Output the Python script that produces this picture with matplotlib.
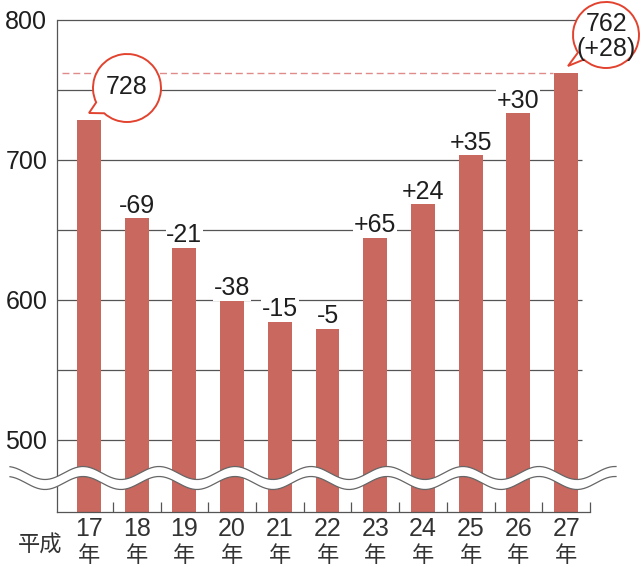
import matplotlib
matplotlib.use('Agg')
import matplotlib.pyplot as plt
import numpy as np
from matplotlib.patches import PathPatch, Polygon
from matplotlib.path import Path
from matplotlib.transforms import Affine2D, blended_transform_factory
from matplotlib.lines import Line2D

# ---- data ----
years = ['17', '18', '19', '20', '21', '22', '23', '24', '25', '26', '27']
values = [728, 659, 638, 600, 585, 580, 645, 669, 704, 734, 762]
changes = ['', '-69', '-21', '-38', '-15', '-5', '+65', '+24', '+35', '+30', '']
first_label = '728'
last_label = '762\n(+28)'
ytick_values = [500, 600, 700, 800]
grid_values = [500, 550, 600, 650, 700, 750, 800]
ref_value = 762
era = '平成'
year_suffix = '年'

FONT = ['Liberation Sans', 'Noto Sans CJK JP', 'DejaVu Sans']
plt.rcParams['font.family'] = FONT

W, H = 643, 567
fig = plt.figure(figsize=(W / 100, H / 100), dpi=100)
fig.patch.set_facecolor('white')

# pixel transform (x right, y down from top)
pixT = Affine2D().scale(1 / W, -1 / H).translate(0, 1) + fig.transFigure

left, right, top, bottom = 57, 590, 19.5, 512
ax = fig.add_axes([left / W, 1 - bottom / H, (right - left) / W, (bottom - top) / H])
ymin = 800 - (bottom - top) / 1.4
ax.set_ylim(ymin, 800)
ax.set_xlim(-0.67, 10.5)

BAR = '#c8685f'
RED = '#e2432f'
GRID = '#555555'
TXT = '#1e1e1e'
FS = 18

x = np.arange(len(values))
ax.bar(x, np.array(values) - ymin, bottom=ymin, width=0.5, color=BAR, zorder=2)

ax.hlines(grid_values, -0.67, 10.33, color=GRID, lw=0.9, zorder=1, clip_on=False)
ax.hlines(ref_value, -0.57, 9.72, color='#e08a8a', lw=1.0, linestyles=(0, (5, 2.8)), zorder=1)

for s in ['top', 'right']:
    ax.spines[s].set_visible(False)
for s in ['left', 'bottom']:
    ax.spines[s].set_color(GRID)
    ax.spines[s].set_linewidth(0.9)

ax.set_yticks(ytick_values)
ax.set_yticklabels([str(v) for v in ytick_values], fontsize=FS, color=TXT)
ax.tick_params(axis='y', length=0, pad=7)
ax.set_xticks(x + 0.5)
ax.set_xticklabels([])
ax.tick_params(axis='x', direction='in', length=7, width=0.9, color=GRID)

# change labels
for xi, v, c in zip(x, values, changes):
    if c:
        ax.annotate(c, (xi, v), xytext=(0, 3), textcoords='offset points',
                    ha='center', va='baseline', fontsize=FS, color=TXT,
                    bbox=dict(fc='white', ec='none', pad=0.5), zorder=3)

# x labels
bt = blended_transform_factory(ax.transData, pixT)
for xi, yr in zip(x, years):
    ax.text(xi, 528.5, yr, transform=bt, ha='center', va='center', fontsize=FS,
            color='#333333', clip_on=False)
    ax.text(xi, 556, year_suffix, transform=bt, ha='center', va='center', fontsize=16,
            color='#333333', clip_on=False, family=['Noto Sans CJK JP'])
fig.text(40, 545, era, transform=pixT, ha='center', va='center', fontsize=16,
         color='#333333', family=['Noto Sans CJK JP'])

# axis break wave
xs = np.linspace(10, 616, 400)
up = 473 - 6.5 * np.cos(2 * np.pi * (xs - 7) / 76)
lo = up + 10
poly = np.vstack([np.column_stack([xs, up]), np.column_stack([xs[::-1], lo[::-1]])])
fig.add_artist(Polygon(poly, closed=True, fc='white', ec='none', transform=pixT, zorder=5))
fig.add_artist(Line2D(xs, up, color='#666666', lw=0.9, transform=pixT, zorder=6))
fig.add_artist(Line2D(xs, lo, color='#666666', lw=0.9, transform=pixT, zorder=6))


def bubble(cx, cy, r, a1, a2, tip):
    arc = Path.arc(a2, a1 + 360)
    verts = arc.vertices * r
    verts[:, 1] = -verts[:, 1]
    verts = verts + np.array([cx, cy])
    codes = list(arc.codes)
    verts = np.vstack([verts, [tip], verts[:1]])
    codes = codes + [Path.LINETO, Path.CLOSEPOLY]
    p = Path(verts, codes)
    fig.add_artist(PathPatch(p, fc='white', ec=RED, lw=1.4, transform=pixT, zorder=7))


bubble(127, 88, 34, 205, 228, (89, 113))
fig.text(127, 87, first_label, transform=pixT, ha='center', va='center',
         fontsize=FS, color=TXT, zorder=8)
bubble(606, 35, 33, 212, 228, (568, 66))
lines = last_label.split('\n')
fig.text(607, 24, lines[0], transform=pixT, ha='center', va='center',
         fontsize=FS, color=TXT, zorder=8)
fig.text(606, 49, lines[1], transform=pixT, ha='center', va='center',
         fontsize=FS, color=TXT, zorder=8)

fig.savefig('out.png', dpi=100, facecolor='white')
